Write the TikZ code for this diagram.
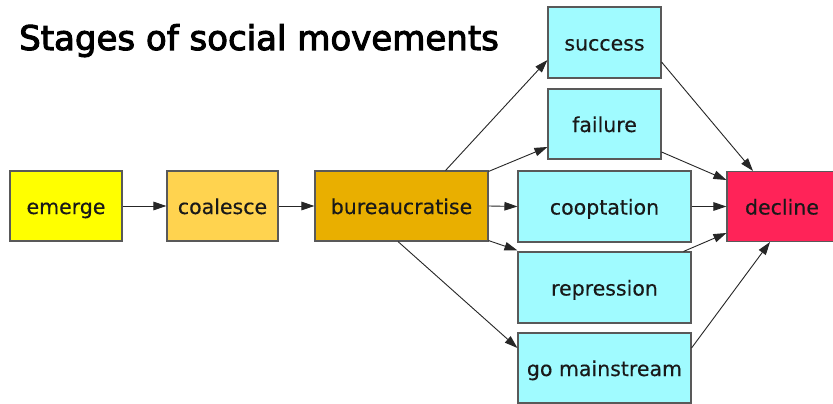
\documentclass[tikz,border=0pt]{standalone}
\usepackage{fontspec}
\setmainfont{DejaVu Sans}
\newfontfamily\titlefont[FakeBold=3]{DejaVu Sans}
\newfontfamily\labelfont[FakeBold=0.4]{DejaVu Sans}
\usetikzlibrary{arrows.meta}
\definecolor{cyanbox}{HTML}{A0FBFF}
\definecolor{yelbox}{HTML}{FFFF00}
\definecolor{orgbox}{HTML}{FFD34F}
\definecolor{goldbox}{HTML}{E9AF00}
\definecolor{redbox}{HTML}{FF2358}
\begin{document}
\begin{tikzpicture}[x=1pt,y=-1pt,
  box/.style={draw=black!65, line width=1.1pt, rectangle, inner sep=0pt,
    minimum height=70pt, text height=19pt, text depth=3pt,
    font=\labelfont\fontsize{20.5}{20.5}\selectfont, text=black!90},
  conn/.style={draw=black!85, line width=0.9pt, -{Triangle[length=13pt,width=8.5pt]}}]
\useasboundingbox (0,0) rectangle (833,404);
\clip (0,0) rectangle (833,404);
\fill[white] (0,0) rectangle (833,404);

\node[anchor=base west, inner sep=0pt, font=\titlefont\fontsize{34}{34}\selectfont] (title) at (19,50) {Stages of social movements};

\node[box, fill=yelbox, minimum width=112pt] (em) at (66,206) {emerge};
\node[box, fill=orgbox, minimum width=111pt] (co) at (222.5,206) {coalesce};
\node[box, fill=goldbox, minimum width=173pt] (bu) at (401.5,206) {bureaucratise};
\node[box, fill=cyanbox, minimum width=113pt, minimum height=71pt] (su) at (604.5,42.5) {success};
\node[box, fill=cyanbox, minimum width=113pt] (fa) at (604.5,124) {failure};
\node[box, fill=cyanbox, minimum width=173pt, minimum height=71pt] (cp) at (604.5,206.5) {cooptation};
\node[box, fill=cyanbox, minimum width=173pt, minimum height=71pt] (re) at (604.5,287.5) {repression};
\node[box, fill=cyanbox, minimum width=173pt] (gm) at (604.5,368) {go mainstream};
\node[box, fill=redbox, minimum width=110pt] (de) at (782,206.5) {decline};

\draw[conn] (em.east) -- (co.west);
\draw[conn] (co.east) -- (bu.west);
\draw[conn] ([xshift=-43pt]bu.north east) -- ([yshift=-17.5pt]su.west);
\draw[conn] ([yshift=-1pt]bu.north east) -- ([yshift=-23pt]fa.west);
\draw[conn] (bu.east) -- (cp.west);
\draw[conn] ([yshift=1pt]bu.south east) -- ([yshift=1pt]re.north west);
\draw[conn] ([xshift=-3.5pt]bu.south) -- ([yshift=20pt]gm.west);
\draw[conn] ([yshift=-19.5pt]su.east) -- ([xshift=-29pt]de.north);
\draw[conn] ([yshift=-28pt]fa.east) -- ([yshift=26.5pt]de.west);
\draw[conn] (cp.east) -- (de.west);
\draw[conn] ([xshift=-8pt]re.north east) -- ([yshift=-26.5pt]de.west);
\draw[conn] ([yshift=20pt]gm.east) -- ([xshift=-12pt]de.south);
\end{tikzpicture}
\end{document}
